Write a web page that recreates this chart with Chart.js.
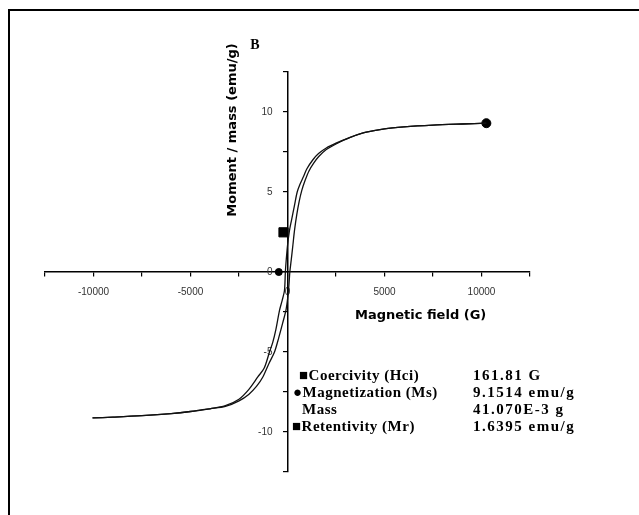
<!DOCTYPE html>
<html>
<head>
<meta charset="utf-8">
<script src="https://cdn.jsdelivr.net/npm/chart.js@4.4.1/dist/chart.umd.min.js"></script>
<style>
  html, body { margin: 0; padding: 0; background: #fff; }
  #wrap { width: 639px; height: 515px; position: relative; }
</style>
</head>
<body>
<div id="wrap"><canvas id="loopChart"></canvas></div>
<script>
// hysteresis loop (field in G, moment in emu/g)
const fieldDown  = [10250, 9000, 7500, 6000, 5000, 4000, 3200, 2500, 2000, 1600, 1300, 1000, 800, 650, 500, 350, 200, 103, 0, -67, -110, -155, -280, -412, -600, -760, -928, -1200, -1530, -2000, -2500, -3200, -4000, -5000, -6000, -7500, -9000, -10050];
const momentDown = [9.3, 9.25, 9.18, 9.07, 8.95, 8.72, 8.4, 8.05, 7.75, 7.4, 7.0, 6.45, 5.9, 5.5, 5.0, 4.1, 3.2, 2.6, 1.64, 0.73, 0, -1.14, -1.8, -2.4, -3.6, -4.4, -5.0, -6.0, -6.56, -7.35, -7.95, -8.35, -8.55, -8.72, -8.85, -8.98, -9.07, -9.12];
const fieldUp    = [-10050, -9000, -7500, -6000, -5000, -4000, -3200, -2500, -2000, -1600, -1270, -950, -670, -450, -250, -67, 52, 120, 190, 280, 361, 480, 600, 737, 900, 1100, 1350, 1600, 2000, 2500, 3200, 4000, 5000, 6000, 7500, 9000, 10250];
const momentUp   = [-9.12, -9.07, -8.98, -8.85, -8.72, -8.55, -8.4, -8.05, -7.65, -7.15, -6.56, -5.7, -5.0, -4.1, -3.2, -2.3, -1.14, 0, 0.73, 1.7, 2.6, 3.6, 4.4, 5.1, 5.7, 6.3, 6.8, 7.2, 7.65, 8.0, 8.4, 8.72, 8.95, 9.07, 9.18, 9.25, 9.3];

// marked points
const msPoint = [10250, 9.3];
const hcPoint = [-450, 0];
const mrPoint = [-206, 2.48];

const xTicksShown = [-10000, -5000, 0, 5000, 10000];
const yTicksShown = [-10, -5, 0, 5, 10];

const legendNames  = ['\u25A0Coercivity (Hci)', '\u25CFMagnetization (Ms)', 'Mass', '\u25A0Retentivity (Mr)'];
const legendValues = ['161.81 G', '9.1514 emu/g', '41.070E-3 g', '1.6395 emu/g'];

function pts(xs, ys) {
    return xs.map((x, i) => ({x: x, y: ys[i]}));
}

// texts and frame around the plot
const extras = {
    id: 'extras',
    afterDraw(chart) {
        const ctx = chart.ctx;
        ctx.save();
        ctx.strokeStyle = '#000';
        ctx.lineWidth = 2;
        ctx.beginPath();
        ctx.moveTo(9, 520);
        ctx.lineTo(9, 10);
        ctx.lineTo(645, 10);
        ctx.stroke();

        ctx.fillStyle = '#000';
        ctx.font = 'bold 14px "Liberation Serif"';
        ctx.textAlign = 'center';
        ctx.textBaseline = 'middle';
        ctx.fillText('B', 255, 45);

        ctx.font = 'bold 13px "DejaVu Sans"';
        ctx.textAlign = 'left';
        ctx.fillText('Magnetic field (G)', 355, 316);

        ctx.save();
        ctx.translate(233, 130);
        ctx.rotate(-Math.PI / 2);
        ctx.textAlign = 'center';
        ctx.fillText('Moment / mass (emu/g)', 0, 0);
        ctx.restore();

        ctx.font = 'bold 15px "Liberation Serif"';
        ctx.textAlign = 'left';
        const rowX = [299, 293, 302, 292];
        legendNames.forEach((name, i) => {
            const y = 376 + i * 17.2;
            ctx.letterSpacing = '0.5px';
            ctx.fillText(name, rowX[i], y);
            ctx.letterSpacing = '1.5px';
            ctx.fillText(legendValues[i], 473, y);
        });
        ctx.letterSpacing = '0px';
        ctx.restore();
    }
};

const loopChart = new Chart(document.getElementById('loopChart'), {
    type: 'scatter',
    data: {
        datasets: [
            {
                data: pts(fieldDown, momentDown),
                showLine: true, tension: 0.3,
                borderColor: '#111', borderWidth: 1.3,
                pointRadius: 0
            },
            {
                data: pts(fieldUp, momentUp),
                showLine: true, tension: 0.3,
                borderColor: '#111', borderWidth: 1.3,
                pointRadius: 0
            },
            {
                data: [{x: msPoint[0], y: msPoint[1]}, {x: hcPoint[0], y: hcPoint[1]}],
                pointStyle: 'circle',
                pointRadius: [4.5, 3.5],
                backgroundColor: '#000', borderColor: '#000'
            },
            {
                data: [{x: mrPoint[0], y: mrPoint[1]}],
                pointStyle: 'rect',
                pointRadius: 6.5,
                backgroundColor: '#000', borderColor: '#000'
            }
        ]
    },
    options: {
        responsive: true,
        maintainAspectRatio: false,
        animation: false,
        layout: { padding: { left: 45, top: 72, right: 109, bottom: 43 } },
        plugins: {
            legend: { display: false },
            tooltip: { enabled: false }
        },
        scales: {
            x: {
                type: 'linear',
                min: -12500, max: 12500,
                position: { y: 0 },
                afterFit: s => { s.height = 0; },
                border: { color: '#000', width: 1.5 },
                grid: { drawOnChartArea: false, tickLength: 4, color: '#000', lineWidth: 1.2 },
                ticks: {
                    stepSize: 2500, autoSkip: false, maxRotation: 0, padding: 10,
                    color: '#333', font: { family: 'Liberation Sans', size: 10 },
                    callback: v => xTicksShown.includes(v) ? String(v) : ''
                }
            },
            y: {
                type: 'linear',
                min: -12.5, max: 12.5,
                position: { x: 0 },
                afterFit: s => { s.width = 0; },
                border: { color: '#000', width: 1.5 },
                grid: { drawOnChartArea: false, tickLength: 4, color: '#000', lineWidth: 1.2 },
                ticks: {
                    stepSize: 2.5, autoSkip: false,
                    color: '#333', font: { family: 'Liberation Sans', size: 10 },
                    // labels sit on the axis line when centred, so pad them to the left
                    callback: v => yTicksShown.includes(v) ? v + '\u2002\u2002\u2002' : ''
                }
            }
        }
    },
    plugins: [extras]
});
</script>
</body>
</html>
